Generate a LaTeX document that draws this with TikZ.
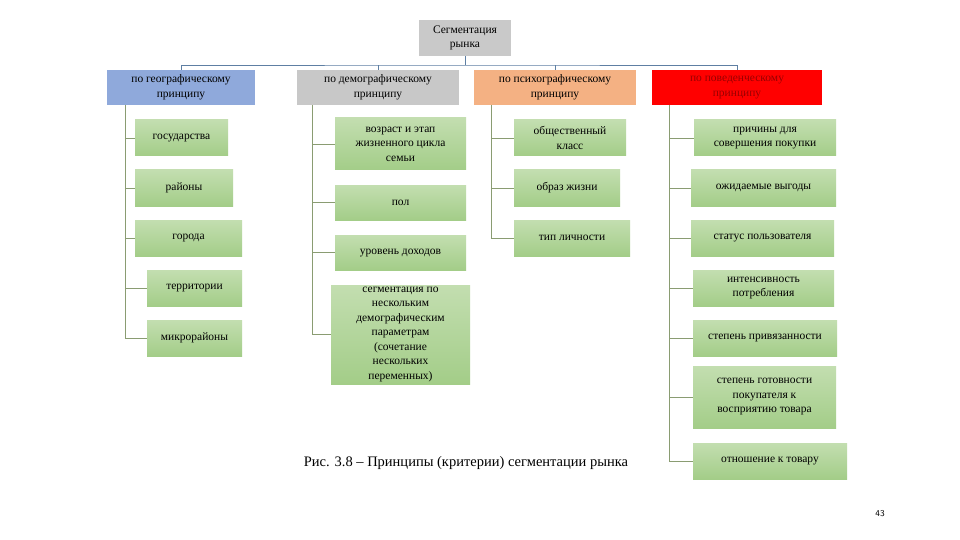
\documentclass[tikz,border=0pt]{standalone}
\usepackage{fontspec}
\setmainfont{Liberation Serif}
\definecolor{gtop}{HTML}{C3DEB0}
\definecolor{gbot}{HTML}{A3CD88}
\definecolor{busc}{HTML}{5E7FA3}
\definecolor{lnc}{HTML}{8A9C72}
\definecolor{geoc}{HTML}{8FA9DB}
\definecolor{demc}{HTML}{C8C8C8}
\definecolor{psyc}{HTML}{F4B183}
\definecolor{behc}{HTML}{FF0000}
\definecolor{rootc}{HTML}{C9C9C9}
\newcommand{\gbox}[6]{\node[gr,minimum width=#3-#2,minimum height=#5-#4] (#1) at ({(#2+#3)/2},{(#4+#5)/2}) {#6};}
\begin{document}
\begin{tikzpicture}[x=1pt,y=-1pt,
  bx/.style={draw=none,inner sep=0pt,align=center,font=\fontsize{11.5}{14.5}\selectfont},
  gr/.style={bx,top color=gtop,bottom color=gbot},
  bus/.style={draw=busc,line width=0.9pt},
  ln/.style={draw=lnc,line width=0.9pt}]
\useasboundingbox[fill=white] (0,0) rectangle (960,540);
% root and level 1
\node[bx,fill=rootc,minimum width=92,minimum height=36] (root) at (465,38) {Сегментация\\рынка};
\node[bx,fill=geoc,minimum width=148,minimum height=35] (geo) at (181,87.5) {по географическому\\принципу};
\node[bx,fill=demc,minimum width=162,minimum height=35] (dem) at (378,87.5) {по демографическому\\принципу};
\node[bx,fill=psyc,minimum width=162,minimum height=35] (psy) at (555,87.5) {по психографическому\\принципу};
\node[bx,fill=behc,text=red!60!black,minimum width=170,minimum height=35] (beh) at (737,87.5) {по поведенческому\\принципу};
\coordinate (bus) at (465,65);
\draw[bus] (root.south) -- (bus);
\draw[bus] (geo.north) |- (bus) -| (beh.north);
\draw[bus] (dem.north) -- (dem.north |- bus);
\draw[bus] (psy.north) -- (psy.north |- bus);
% geo children
\gbox{g1}{135}{228}{120}{156}{государства}
\gbox{g2}{135}{233}{170}{206}{районы}
\gbox{g3}{135}{242}{220}{256}{города}
\gbox{g4}{147}{242}{270}{306}{территории}
\gbox{g5}{147}{242}{320}{356}{микрорайоны}
\coordinate (gt) at (125,105);
\draw[ln] (gt) |- (g5.west);
\foreach \n in {g1,g2,g3,g4} \draw[ln] (gt |- \n.west) -- (\n.west);
% dem children
\gbox{d1}{335}{466}{118}{170}{возраст и этап\\жизненного цикла\\семьи}
\gbox{d2}{335}{466}{185}{220}{\raisebox{-6pt}{пол}}
\gbox{d3}{335}{466}{235}{270}{\raisebox{-6pt}{уровень доходов}}
\gbox{d4}{331}{470}{285}{384}{сегментация по\\нескольким\\демографическим\\параметрам\\(сочетание\\нескольких\\переменных)}
\coordinate (dt) at (312,105);
\draw[ln] (dt) |- (d4.west);
\foreach \n in {d1,d2,d3} \draw[ln] (dt |- \n.west) -- (\n.west);
% psy children
\gbox{p1}{514}{626}{120}{156}{общественный\\класс}
\gbox{p2}{514}{620}{170}{206}{образ жизни}
\gbox{p3}{514}{630}{220}{256}{тип личности}
\coordinate (pt) at (491,105);
\draw[ln] (pt) |- (p3.west);
\foreach \n in {p1,p2} \draw[ln] (pt |- \n.west) -- (\n.west);
% beh children
\gbox{b1}{694}{836}{120}{156}{причины для\\совершения покупки}
\gbox{b2}{691}{836}{170}{206}{ожидаемые выгоды}
\gbox{b3}{691}{834}{220}{256}{статус пользователя}
\gbox{b4}{693}{834}{270}{306}{интенсивность\\потребления}
\gbox{b5}{693}{837}{320}{356}{степень привязанности}
\gbox{b6}{693}{836}{366}{428}{степень готовности\\покупателя к\\восприятию товара}
\gbox{b7}{693}{847}{443}{479}{отношение к товару}
\coordinate (bt) at (669,105);
\draw[ln] (bt) |- (b7.west);
\foreach \n in {b1,b2,b3,b4,b5,b6} \draw[ln] (bt |- \n.west) -- (\n.west);
% caption
\node[font=\fontsize{14.5}{17}\selectfont,inner sep=0pt] (cap) at (466,463) {Рис. 3.8 – Принципы (критерии) сегментации рынка};
\node[font=\sffamily\fontsize{9}{10}\selectfont,inner sep=0pt] (pg) at (880,514) {43};
\end{tikzpicture}
\end{document}
